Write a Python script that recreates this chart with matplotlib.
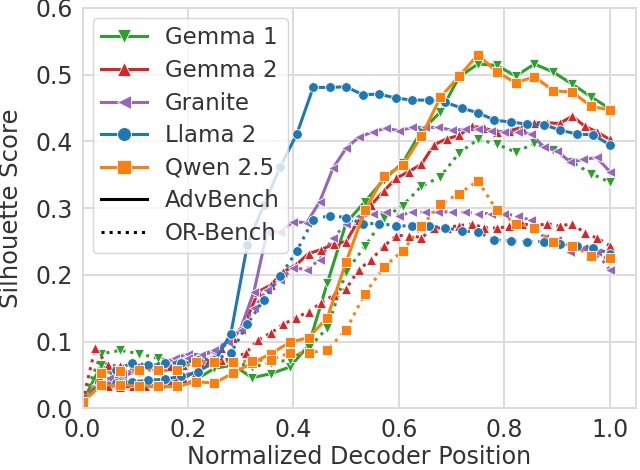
import numpy as np
import matplotlib
matplotlib.use("Agg")
import matplotlib.pyplot as plt
from matplotlib.lines import Line2D

models = ["Gemma 1", "Gemma 2", "Granite", "Llama 2", "Qwen 2.5"]
colors = ["#2ca02c", "#d62728", "#9467bd", "#1f77b4", "#ff7f0e"]
markers = ["v", "^", "<", "o", "s"]

gemma1_adv = [0.01, 0.065, 0.04, 0.035, 0.032, 0.031, 0.043, 0.06, 0.065, 0.046, 0.052, 0.062, 0.094, 0.188, 0.278,
              0.31, 0.343, 0.368, 0.416, 0.444, 0.497, 0.516, 0.514, 0.498, 0.516, 0.504, 0.486, 0.467, 0.449]
gemma1_or = [0.01, 0.082, 0.087, 0.082, 0.075, 0.07, 0.068, 0.072, 0.07, 0.062, 0.068, 0.073, 0.09, 0.121, 0.205,
             0.243, 0.285, 0.304, 0.333, 0.347, 0.383, 0.403, 0.396, 0.384, 0.397, 0.387, 0.369, 0.352, 0.339]

gemma2_adv = [0.01, 0.035, 0.033, 0.032, 0.033, 0.033, 0.035, 0.038, 0.045, 0.055, 0.068, 0.09, 0.105, 0.13, 0.175,
              0.185, 0.205, 0.215, 0.232, 0.238, 0.246, 0.25, 0.283, 0.305, 0.326, 0.345, 0.355, 0.366, 0.395, 0.404,
              0.409, 0.423, 0.42, 0.414, 0.416, 0.421, 0.428, 0.428, 0.427, 0.438, 0.423, 0.414, 0.403]
gemma2_or = [0.01, 0.09, 0.065, 0.063, 0.064, 0.065, 0.062, 0.063, 0.065, 0.068, 0.07, 0.072, 0.075, 0.083, 0.103,
             0.113, 0.126, 0.136, 0.145, 0.158, 0.17, 0.179, 0.208, 0.223, 0.243, 0.259, 0.259, 0.256, 0.27, 0.271,
             0.274, 0.276, 0.271, 0.27, 0.273, 0.277, 0.273, 0.277, 0.273, 0.277, 0.263, 0.255, 0.244]

granite_adv = [0.01, 0.035, 0.042, 0.048, 0.055, 0.062, 0.068, 0.075, 0.082, 0.08, 0.085, 0.1, 0.12, 0.175, 0.264,
               0.265, 0.28, 0.278, 0.31, 0.36, 0.39, 0.407, 0.414, 0.42, 0.416, 0.421, 0.421, 0.421, 0.417, 0.418,
               0.419, 0.416, 0.414, 0.414, 0.411, 0.392, 0.386, 0.369, 0.373, 0.376, 0.355]
granite_or = [0.01, 0.035, 0.045, 0.052, 0.058, 0.063, 0.067, 0.07, 0.075, 0.08, 0.088, 0.1, 0.118, 0.15, 0.178,
              0.192, 0.211, 0.208, 0.223, 0.256, 0.276, 0.288, 0.291, 0.294, 0.289, 0.294, 0.294, 0.295, 0.294, 0.294,
              0.292, 0.292, 0.292, 0.288, 0.282, 0.256, 0.252, 0.234, 0.24, 0.234, 0.207]

llama2_adv = [0.01, 0.035, 0.038, 0.04, 0.042, 0.044, 0.048, 0.055, 0.07, 0.112, 0.245, 0.305, 0.362, 0.411, 0.481,
              0.481, 0.482, 0.47, 0.471, 0.465, 0.462, 0.462, 0.459, 0.45, 0.443, 0.432, 0.429, 0.426, 0.425, 0.417,
              0.411, 0.41, 0.395]
llama2_or = [0.01, 0.04, 0.058, 0.068, 0.065, 0.068, 0.068, 0.073, 0.073, 0.083, 0.126, 0.163, 0.198, 0.236, 0.283,
             0.289, 0.286, 0.277, 0.277, 0.274, 0.273, 0.273, 0.271, 0.266, 0.264, 0.253, 0.251, 0.25, 0.25, 0.246,
             0.243, 0.241, 0.232]

qwen_adv = [0.01, 0.035, 0.035, 0.034, 0.033, 0.033, 0.04, 0.038, 0.053, 0.068, 0.082, 0.099, 0.106, 0.136, 0.22,
            0.297, 0.348, 0.364, 0.408, 0.466, 0.498, 0.53, 0.504, 0.488, 0.497, 0.476, 0.474, 0.453, 0.447]
qwen_or = [0.01, 0.053, 0.056, 0.058, 0.057, 0.057, 0.07, 0.07, 0.07, 0.071, 0.073, 0.083, 0.083, 0.088, 0.118,
           0.172, 0.212, 0.236, 0.273, 0.306, 0.322, 0.341, 0.297, 0.277, 0.27, 0.249, 0.244, 0.229, 0.225]

adv_series = [gemma1_adv, gemma2_adv, granite_adv, llama2_adv, qwen_adv]
or_series = [gemma1_or, gemma2_or, granite_or, llama2_or, qwen_or]

plt.rcParams['font.family'] = ['DejaVu Sans']
fig = plt.figure(figsize=(6.4, 4.7), dpi=100)
ax = fig.add_axes([0.129, 0.131, 0.865, 0.852])

grid_c = "#dcdcdc"
ax.set_axisbelow(True)
ax.grid(True, color=grid_c, linewidth=1.4)
for s in ax.spines.values():
    s.set_color(grid_c)
    s.set_linewidth(1.4)

for name, c, m, adv, orb in zip(models, colors, markers, adv_series, or_series):
    xa = np.linspace(0, 1, len(adv))
    xo = np.linspace(0, 1, len(orb))
    ax.plot(xa, adv, color=c, marker=m, linestyle='-', linewidth=2.2, markersize=7,
            markeredgecolor='white', markeredgewidth=0.6)
    ax.plot(xo, orb, color=c, marker=m, linestyle=':', linewidth=2.2, markersize=7,
            markeredgecolor='white', markeredgewidth=0.6)

ax.set_xlim(0, 1.05)
ax.set_ylim(0, 0.6)
ax.set_xticks([0.0, 0.2, 0.4, 0.6, 0.8, 1.0])
ax.set_yticks([0.0, 0.1, 0.2, 0.3, 0.4, 0.5, 0.6])
ax.tick_params(axis='both', labelsize=17, colors='#333333', length=0, pad=7)
ax.set_xlabel("Normalized Decoder Position", fontsize=17.2, color='#333333', labelpad=2)
ax.set_ylabel("Silhouette Score", fontsize=17.5, color='#333333', labelpad=9)

handles = [Line2D([], [], color=c, marker=m, linestyle='-', linewidth=2.2, markersize=10,
                  markeredgecolor='white', markeredgewidth=0.6, label=n)
           for n, c, m in zip(models, colors, markers)]
handles.append(Line2D([], [], color='black', linestyle='-', linewidth=2.2, label="AdvBench"))
handles.append(Line2D([], [], color='black', linestyle=':', linewidth=2.2, label="OR-Bench"))
leg = ax.legend(handles=handles, loc='upper left', fontsize=16.5, frameon=True, framealpha=0.8,
                edgecolor='#cccccc', fancybox=True, handlelength=2.0, borderpad=0.35, labelspacing=0.42,
                handletextpad=0.8, borderaxespad=0.45)
for t in leg.get_texts():
    t.set_color('#333333')

fig.savefig("out.png", dpi=100)
